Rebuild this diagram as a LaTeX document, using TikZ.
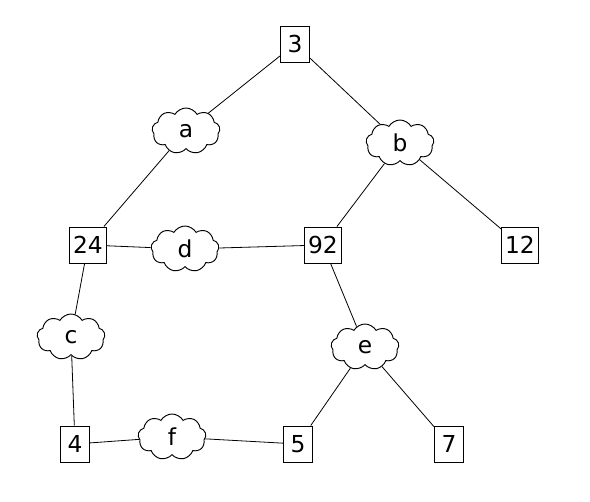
\documentclass[tikz,border=0pt]{standalone}
\usepackage{fontspec}
\setmainfont{DejaVu Sans}
\usetikzlibrary{shapes.symbols}

\begin{document}
\begin{tikzpicture}[
		x=0.75pt, y=-0.75pt,
		font=\fontsize{17.5}{20}\selectfont,
		% Style for the numbered boxes
		numbox/.style={draw, line width=0.7pt, minimum width=29*0.75pt, minimum height=36*0.75pt, inner xsep=2.5pt, inner ysep=0pt},
		% Style for the clouds
		puff/.style={cloud, draw, line width=0.7pt, cloud puffs=9, cloud puff arc=120, cloud ignores aspect,
			minimum width=68*0.75pt, minimum height=46*0.75pt, inner sep=0pt},
		link/.style={draw, line width=0.6pt}
		]
		\useasboundingbox[fill=white] (0,0) rectangle (590,502);

		% Boxes
		\node[numbox] (n3) at (295,44) {3};
		\node[numbox] (n24) at (88,245) {24};
		\node[numbox] (n92) at (323,245) {92};
		\node[numbox] (n12) at (520,245) {12};
		\node[numbox] (n4) at (75,444) {4};
		\node[numbox] (n5) at (298,444) {5};
		\node[numbox] (n7) at (449,444) {7};

		% Clouds
		\node[puff] (ca) at (186,131) {a};
		\node[puff] (cb) at (400,143) {b};
		\node[puff] (cd) at (185,249) {d};
		\node[puff] (cc) at (71,337) {c};
		\node[puff] (ce) at (365,347) {e};
		\node[puff] (cf) at (172,437) {f};

		% Links
		\path[link] (n3) -- (ca);
		\path[link] (n3) -- (cb);
		\path[link] (ca) -- (n24);
		\path[link] (cb) -- (n92);
		\path[link] (cb) -- (n12);
		\path[link] (n24) -- (cd);
		\path[link] (cd) -- (n92);
		\path[link] (n24) -- (cc);
		\path[link] (cc) -- (n4);
		\path[link] (n92) -- (ce);
		\path[link] (ce) -- (n5);
		\path[link] (ce) -- (n7);
		\path[link] (n4) -- (cf);
		\path[link] (cf) -- (n5);
	\end{tikzpicture}
\end{document}
